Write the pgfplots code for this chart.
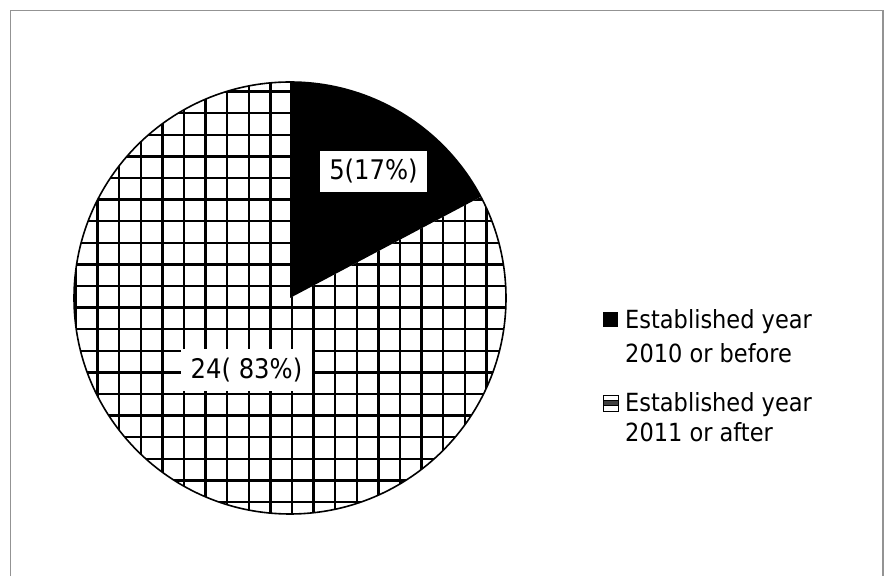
\documentclass[border=0pt]{standalone}
\usepackage{pgfplots}
\pgfplotsset{compat=1.18}
\usepackage{pgfplotstable}
\usepackage{fontspec}
\setmainfont{DejaVu Sans Condensed}

\pgfplotstableread{
id value
1 5
2 24
}\piedata

\begin{document}
\begin{tikzpicture}
\pgfplotstablegetelem{0}{value}\of\piedata \pgfmathsetmacro\va{\pgfplotsretval}
\pgfplotstablegetelem{1}{value}\of\piedata \pgfmathsetmacro\vb{\pgfplotsretval}
\pgfmathsetmacro\angA{90-360*\va/(\va+\vb)}
\pgfmathsetmacro\angB{450-360*\va/(\va+\vb)}
\begin{axis}[scale only axis, width=884pt, height=576pt,
  xmin=0, xmax=884, ymin=0, ymax=576, hide axis]
\path (axis cs:0,0) rectangle (axis cs:884,576);
% frame
\draw[color=gray!85, line width=1.6pt] (axis cs:10.5,0) -- (axis cs:10.5,565.5) -- (axis cs:883,565.5) -- (axis cs:883,0);
% hatched slice
\fill[white] (axis cs:290,278) -- (axis cs:290,494) arc[start angle=90, end angle=\angB, radius=216pt] -- cycle;
\begin{scope}
\clip (axis cs:290,278) -- (axis cs:290,494) arc[start angle=90, end angle=\angB, radius=216pt] -- cycle;
\pgfplotsinvokeforeach{-11,...,11}{
  \draw[line width=2.3pt] (axis cs:{292+21.6*#1},40) -- (axis cs:{292+21.6*#1},520);
  \draw[line width=2.3pt] (axis cs:50,{290+21.6*#1}) -- (axis cs:540,{290+21.6*#1});
}
\end{scope}
% black slice
\fill[black] (axis cs:290,278) -- (axis cs:290,494) arc[start angle=90, end angle=\angA, radius=216pt] -- cycle;
\draw[line width=1.6pt] (axis cs:290,278) circle[radius=216pt];
% data labels
\node[fill=white, minimum width=107pt, minimum height=41pt, inner sep=0pt, font=\fontsize{27}{30}\selectfont] at (axis cs:373.5,404.5) {5(17\%)};
\node[fill=white, minimum width=131pt, minimum height=42pt, inner sep=0pt, font=\fontsize{27}{30}\selectfont] at (axis cs:246.5,206) {24( 83\%)};
% legend
\fill[black] (axis cs:603,249) rectangle (axis cs:618,264);
\node[anchor=base west, inner sep=0pt, font=\fontsize{25}{28}\selectfont] at (axis cs:625,247) {Established year};
\node[anchor=base west, inner sep=0pt, font=\fontsize{25}{28}\selectfont] at (axis cs:625,213) {2010 or before};
\fill[white] (axis cs:603.5,164.5) rectangle (axis cs:618.5,180.5);
\fill[black!75] (axis cs:603.5,170) rectangle (axis cs:618.5,175);
\draw[line width=1.4pt] (axis cs:603.5,164.5) rectangle (axis cs:618.5,180.5);
\draw[line width=1pt] (axis cs:603.5,170) -- (axis cs:618.5,170);
\draw[line width=1pt] (axis cs:603.5,175) -- (axis cs:618.5,175);
\node[anchor=base west, inner sep=0pt, font=\fontsize{25}{28}\selectfont] at (axis cs:625,164) {Established year};
\node[anchor=base west, inner sep=0pt, font=\fontsize{25}{28}\selectfont] at (axis cs:625,134) {2011 or after};
\end{axis}
\end{tikzpicture}
\end{document}
